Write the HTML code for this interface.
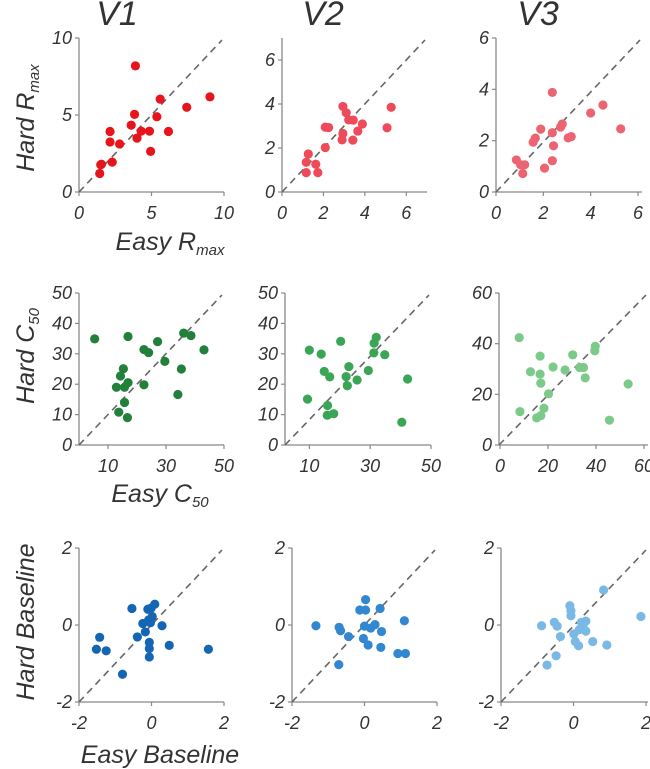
<!DOCTYPE html>
<html><head><meta charset="utf-8"><style>
html,body{margin:0;padding:0;background:#fff;}
svg{position:absolute;left:0;top:0;}
svg text{font-family:"Liberation Sans",sans-serif;font-style:italic;fill:#333;}
</style></head><body>
<svg id="fig" width="650" height="769" viewBox="0 0 650 769"></svg>
<script>
// ---- data arrays ----
const rmaxV1X=[1.43,1.5,1.55,2.14,2.14,2.29,2.8,3.89,3.83,3.6,4.0,4.29,4.86,4.94,5.37,5.6,6.17,7.43,9.03];
const rmaxV1Y=[1.2,1.77,1.8,3.93,3.25,1.94,3.12,8.19,5.04,4.34,3.5,3.95,3.95,2.64,4.89,6.03,3.93,5.5,6.18];
const rmaxV2X=[1.17,1.17,1.27,1.63,1.73,2.09,2.09,2.25,2.94,3.1,2.94,2.9,3.22,3.44,3.42,3.66,3.88,5.07,5.27];
const rmaxV2Y=[0.88,1.35,1.73,1.26,0.88,2.02,2.95,2.93,3.89,3.6,2.66,2.37,3.28,3.27,2.36,2.77,3.09,2.92,3.85];
const rmaxV3X=[0.86,1.04,1.21,1.13,1.57,1.66,1.89,2.05,2.38,2.38,2.43,2.38,2.73,2.8,3.05,3.18,4.0,4.52,5.27];
const rmaxV3Y=[1.25,1.06,1.06,0.72,1.94,2.1,2.45,0.93,3.88,2.31,1.8,1.22,2.53,2.65,2.11,2.16,3.08,3.39,2.46];
const c50V1X=[5.4,12.9,13.7,14.3,15.3,15.7,15.7,16.7,16.9,16.9,22.4,22.4,24,27.1,29.6,34.1,35.3,36.1,38.6,43.1];
const c50V1Y=[34.9,19,10.8,22.7,25.1,19,14,9,35.7,20.5,19.8,31.4,30.4,34,27.5,16.6,25,36.8,36,31.3];
const c50V2X=[9.4,10,13.9,14.9,16,15.9,16.7,18,20.3,22.1,22.5,23,25.7,29.4,31.2,31.3,32,34.8,40.4,42.3];
const c50V2Y=[15.1,31.2,29.9,24.2,13,9.8,22.4,10.3,34.1,22.5,19.5,25.8,21.4,24.5,30.3,33.5,35.4,29.7,7.5,21.7];
const c50V3X=[8,8.3,12.7,15.3,16.7,16.7,17,17,18.3,20.2,22.1,27.1,30.3,33.2,34.8,35.5,39.5,39.7,45.6,53.4];
const c50V3Y=[42.4,13.2,28.9,10.7,35.1,28,24.4,11.6,14.5,20.2,30.8,29.6,35.6,30.6,30.6,26.5,37.2,39,9.8,24.1];
const baseV1X=[-1.52,-1.43,-1.25,-0.8,-0.54,-0.39,-0.24,-0.17,-0.1,-0.06,-0.06,-0.06,-0.08,-0.01,-0.03,0.02,0.09,0.29,0.49,1.57];
const baseV1Y=[-0.63,-0.32,-0.67,-1.28,0.43,-0.31,0.04,-0.18,0.41,-0.83,-0.61,-0.45,0.13,0.44,0.06,0.22,0.54,-0.02,-0.53,-0.63];
const baseV2X=[-1.34,-0.71,-0.7,-0.66,-0.44,-0.13,-0.03,0.03,0.03,0,0.1,0.17,0.29,0.43,0.47,0.45,0.92,1.13,1.1];
const baseV2Y=[-0.02,-1.03,-0.06,-0.15,-0.3,0.39,-0.35,0.39,0.66,-0.03,-0.52,-0.08,0.01,0.43,-0.17,-0.58,-0.74,-0.74,0.11];
const baseV3X=[-0.88,-0.73,-0.53,-0.45,-0.48,-0.36,-0.1,-0.07,-0.07,0.01,0.05,0.14,0.16,0.26,0.34,0.34,0.22,0.53,0.83,0.92,1.86];
const baseV3Y=[-0.02,-1.04,0.07,-0.03,-0.8,-0.3,0.5,0.37,0.24,-0.23,-0.43,-0.54,-0.12,-0.02,0.1,-0.16,0.07,-0.43,0.91,-0.52,0.22];
const ticksR1=[0,5,10], ticksR2=[0,2,4,6], ticksR3=[0,2,4,6];
const ticksC50y=[0,10,20,30,40,50], ticksC50x=[10,30,50], ticksC60=[0,20,40,60];
const ticksB=[-2,0,2];

const NS="http://www.w3.org/2000/svg";
const svg=document.getElementById('fig');
function mk(tag,attrs,parent){const e=document.createElementNS(NS,tag);for(const k in attrs)e.setAttribute(k,attrs[k]);(parent||svg).appendChild(e);return e;}

function panel(p){
  const g=mk('g',{});
  
  
  const sx=v=>p.px[0]+(v-p.dx[0])/(p.dx[1]-p.dx[0])*(p.px[1]-p.px[0]);
  const sy=v=>p.py[0]+(v-p.dy[0])/(p.dy[1]-p.dy[0])*(p.py[1]-p.py[0]);
  const ox=p.ax0, oy=p.py[0];
  const ya=mk('line',{x1:ox,y1:oy,x2:ox,y2:p.py[1],stroke:'#888','stroke-width':1.3},g);
  
  
  const xa=mk('line',{x1:ox,y1:oy,x2:p.axEnd,y2:oy,stroke:'#888','stroke-width':1.3},g);
  
  
  const d=mk('line',{x1:ox,y1:oy,x2:p.axEnd-2,y2:p.py[1]+2,stroke:'#666','stroke-width':1.6,'stroke-dasharray':'7,5'},g);
  
  
  p.yt.forEach(v=>{
    const y=sy(v);
    mk('line',{x1:ox-4,y1:y,x2:ox,y2:y,stroke:'#888','stroke-width':1.2},g);
    const t=mk('text',{x:ox-7,y:y+6,'text-anchor':'end','font-size':18},g);
    t.textContent=v;
    
    
  });
  p.xt.forEach(v=>{
    const x=sx(v);
    mk('line',{x1:x,y1:oy,x2:x,y2:oy+4,stroke:'#888','stroke-width':1.2},g);
    const t=mk('text',{x:x,y:oy+27,'text-anchor':'middle','font-size':18},g);
    t.textContent=v;
    
    
  });
  p.xs.forEach((v,i)=>{
    const c=mk('circle',{cx:sx(v),cy:sy(p.ys[i]),r:4.6,fill:p.color},g);
    
    
  });
}
const R1=[192,38], R2=[445,293], R3=[702,548];
panel({name:'v1-rmax-panel',px:[79,224],dx:[0,10],py:R1,dy:[0,10],ax0:79,axEnd:224,xt:ticksR1,yt:ticksR1,xs:rmaxV1X,ys:rmaxV1Y,color:'#e8141c'});
panel({name:'v2-rmax-panel',px:[282,427],dx:[0,7],py:R1,dy:[0,7],ax0:282,axEnd:427,xt:ticksR2,yt:ticksR2,xs:rmaxV2X,ys:rmaxV2Y,color:'#ee4a5a'});
panel({name:'v3-rmax-panel',px:[496,638],dx:[0,6],py:R1,dy:[0,6],ax0:496,axEnd:642,xt:ticksR3,yt:ticksR3,xs:rmaxV3X,ys:rmaxV3Y,color:'#ec6472'});
panel({name:'v1-c50-panel',px:[79,224],dx:[0,50],py:R2,dy:[0,50],ax0:79,axEnd:224,xt:ticksC50x,yt:ticksC50y,xs:c50V1X,ys:c50V1Y,color:'#22803a'});
panel({name:'v2-c50-panel',px:[285,431],dx:[2,50],py:R2,dy:[0,50],ax0:285,axEnd:431,xt:ticksC50x,yt:ticksC50y,xs:c50V2X,ys:c50V2Y,color:'#3aa555'});
panel({name:'v3-c50-panel',px:[500,644],dx:[0,60],py:R2,dy:[0,60],ax0:499,axEnd:648,xt:ticksC60,yt:ticksC60,xs:c50V3X,ys:c50V3Y,color:'#7cca8a'});
panel({name:'v1-baseline-panel',px:[79,224],dx:[-2,2],py:R3,dy:[-2,2],ax0:79,axEnd:224,xt:ticksB,yt:ticksB,xs:baseV1X,ys:baseV1Y,color:'#1565b5'});
panel({name:'v2-baseline-panel',px:[292,437],dx:[-2,2],py:R3,dy:[-2,2],ax0:292,axEnd:437,xt:ticksB,yt:ticksB,xs:baseV2X,ys:baseV2Y,color:'#3288d0'});
panel({name:'v3-baseline-panel',px:[501,646],dx:[-2,2],py:R3,dy:[-2,2],ax0:501,axEnd:648,xt:ticksB,yt:ticksB,xs:baseV3X,ys:baseV3Y,color:'#7ab8e6'});
</script>
<svg width="650" height="769" style="pointer-events:none">
<text x="117" y="25" text-anchor="middle" font-size="34">V1</text>
<text x="323" y="25" text-anchor="middle" font-size="34">V2</text>
<text x="538" y="25" text-anchor="middle" font-size="34">V3</text>
<text transform="translate(34,118) rotate(-90)" text-anchor="middle" font-size="25">Hard R<tspan font-size="15" dy="5">max</tspan></text>
<text x="170" y="250" text-anchor="middle" font-size="25">Easy R<tspan font-size="15" dy="5">max</tspan></text>
<text transform="translate(34,356) rotate(-90)" text-anchor="middle" font-size="25">Hard C<tspan font-size="15" dy="5">50</tspan></text>
<text x="160" y="502" text-anchor="middle" font-size="25">Easy C<tspan font-size="15" dy="5">50</tspan></text>
<text transform="translate(34,622) rotate(-90)" text-anchor="middle" font-size="25">Hard Baseline</text>
<text x="160" y="763" text-anchor="middle" font-size="25">Easy Baseline</text>
</svg>
</body></html>
